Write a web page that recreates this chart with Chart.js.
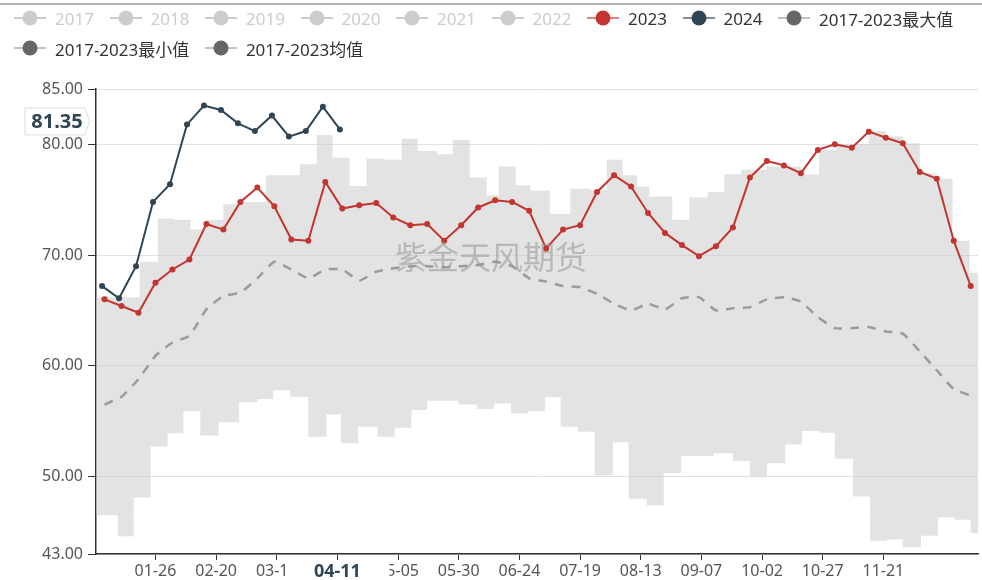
<!DOCTYPE html>
<html>
<head>
<meta charset="utf-8">
<script src="https://cdn.jsdelivr.net/npm/chart.js@4.4.1/dist/chart.umd.min.js"></script>
<style>
  html, body { margin: 0; padding: 0; background: #fff; }
  #wrap { position: relative; width: 982px; height: 580px; overflow: hidden; }
  #topline { position: absolute; left: 0; top: 3px; width: 982px; height: 2px; background: #b4b4b4; }
  #chart { position: absolute; left: 0; top: 0; }
  .legend-row { position: absolute; left: 14px; display: flex; align-items: center; height: 24px;
    font-family: "Noto Sans", "Noto Sans CJK SC", sans-serif; font-size: 17px; white-space: nowrap; }
  .legend-item { display: flex; align-items: center; margin-right: 15.6px; }
  .legend-item svg { margin-right: 9px; }
</style>
</head>
<body>
<div id="wrap">
  <div id="topline"></div>
  <canvas id="chart" width="982" height="580"></canvas>
  <div class="legend-row" id="legend-row-1" style="top:6px"></div>
  <div class="legend-row" id="legend-row-2" style="top:36px"></div>
</div>
<script>
/* Weekly price vs. 2017-2023 range (max / min / mean band) */

// ─── DATA ────────────────────────────────────────────────
// x is day-of-year index on the category axis
var xTickDays   = [25, 50, 75, 100, 125, 150, 175, 200, 225, 250, 275, 300, 325];
var xTickLabels = ['01-26', '02-20', '03-17', '04-11', '05-05', '05-30', '06-24',
                   '07-19', '08-13', '09-07', '10-02', '10-27', '11-21'];
var yTicks = [43, 50, 60, 70, 80, 85];

var legendNames = ['2017', '2018', '2019', '2020', '2021', '2022', '2023', '2024',
                   '2017-2023最大值', '2017-2023最小值', '2017-2023均值'];
var legendOn    = [false, false, false, false, false, false, true, true, true, true, true];

// 2023, weekly (first week day 4)
var series2023 = [66.0, 65.4, 64.8, 67.5, 68.7, 69.6, 72.8, 72.3, 74.8, 76.1,
                  74.4, 71.4, 71.3, 76.6, 74.2, 74.5, 74.7, 73.4, 72.7, 72.8,
                  71.3, 72.7, 74.3, 74.95, 74.8, 74.0, 70.6, 72.3, 72.7, 75.7,
                  77.2, 76.2, 73.8, 72.0, 70.9, 69.9, 70.8, 72.5, 77.0, 78.5,
                  78.1, 77.4, 79.5, 80.0, 79.7, 81.15, 80.6, 80.1, 77.5, 76.9,
                  71.3, 67.2];
// 2024, weekly (first week day 3)
var series2024 = [67.2, 66.1, 69.0, 74.8, 76.4, 81.8, 83.5, 83.1, 81.9, 81.2,
                  82.6, 80.7, 81.2, 83.4, 81.35];
// 2017-2023 mean, same weeks as 2023
var seriesMean = [56.5, 57.2, 58.8, 60.9, 62.1, 62.7, 65.1, 66.3, 66.6, 67.9,
                  69.4, 68.7, 67.9, 68.7, 68.7, 67.7, 68.5, 68.8, 69.0, 69.0,
                  68.9, 69.0, 69.1, 69.4, 69.0, 67.9, 67.6, 67.2, 67.1, 66.5,
                  65.6, 65.0, 65.6, 65.1, 66.1, 66.2, 65.0, 65.2, 65.3, 66.0,
                  66.2, 65.8, 64.4, 63.4, 63.4, 63.5, 63.1, 62.9, 61.3, 59.6,
                  57.9, 57.3];

// 2017-2023 max: step start day / value
var maxDays = [0.5, 18.5, 26, 32.5, 39.5, 46, 53, 60.5, 70.5, 84.5,
               91.5, 98, 105, 112, 119.5, 126.5, 133, 141, 147.5, 154.5,
               161.5, 166.5, 173.5, 179.5, 187.5, 196, 204, 211, 217.5, 223.5,
               228.5, 238, 245, 252.5, 259.5, 266.5, 277, 291, 298.5, 305.5,
               319, 326, 333, 340, 346.5, 353.5, 360.5];
var maxValues = [66.2, 69.4, 73.3, 73.2, 72.3, 73.2, 74.6, 74.8, 77.2, 78.2,
                 80.85, 78.8, 76.25, 78.7, 78.6, 80.5, 79.4, 79.1, 80.4, 77.0,
                 75.4, 78.0, 76.3, 75.8, 73.7, 76.0, 75.9, 78.6, 77.2, 76.2,
                 75.3, 73.2, 75.2, 75.7, 77.3, 77.7, 78.0, 77.3, 79.5, 80.0,
                 81.2, 80.7, 80.1, 77.4, 76.9, 71.3, 68.4];
// 2017-2023 min: step start day / value
var minDays = [0.5, 9.5, 16, 23, 30, 36.5, 43.5, 51, 59.5, 67,
               73.5, 80.5, 88, 95.5, 101.5, 108.5, 116.5, 123.5, 130.5, 137,
               150, 157.5, 164.5, 171.5, 178.5, 185.5, 192, 199, 206, 213.5,
               220, 227.5, 234.5, 241.5, 255, 263, 270, 277, 284.5, 291.5,
               298.5, 305, 312.5, 319.5, 326.5, 333, 340.5, 347.5, 354.5, 361];
var minValues = [46.5, 44.6, 48.1, 52.7, 53.9, 55.9, 53.7, 54.9, 56.7, 57.0,
                 57.8, 57.2, 53.6, 55.6, 53.0, 54.5, 53.6, 54.4, 56.0, 56.85,
                 56.5, 56.1, 56.6, 55.7, 55.9, 57.15, 54.5, 54.05, 50.1, 53.1,
                 48.0, 47.4, 50.3, 51.85, 52.1, 51.4, 50.0, 51.2, 52.9, 54.1,
                 53.95, 51.6, 48.2, 44.2, 44.3, 43.6, 44.65, 46.3, 46.1, 44.9];

var pointerValue = 81.35;
var pointerDay = 100;

// ─── HELPERS ─────────────────────────────────────────────
var X_MIN = 0.5, X_MAX = 364;
var FONT = '"Noto Sans", "Noto Sans CJK SC", sans-serif';
var COLORS = {
  '2023': '#c23531',
  '2024': '#2f4554',
  other: '#666666',
  off: '#cccccc'
};

function pts(days, vals) {
  return vals.map(function(v, i) { return { x: days[i], y: v }; });
}
// hold the last step until the right edge
function steps(days, vals) {
  return pts(days, vals).concat([{ x: X_MAX, y: vals[vals.length - 1] }]);
}
function weekly(vals, firstDay) {
  return vals.map(function(_, i) { return firstDay + 7 * i; });
}

// ─── LEGEND (html, two rows) ─────────────────────────────
function renderLegend() {
  legendNames.forEach(function(name, i) {
    var on = legendOn[i];
    var c = on ? (COLORS[name] || COLORS.other) : COLORS.off;
    var line = on ? (COLORS[name] ? c : '#999') : COLORS.off;
    var item = document.createElement('div');
    item.className = 'legend-item';
    item.innerHTML =
      '<svg width="32" height="18"><line x1="0" y1="9" x2="32" y2="9" stroke="' + line +
      '" stroke-width="2" opacity="' + (on ? 0.6 : 1) + '"/>' +
      '<circle cx="16" cy="9" r="7.5" fill="' + c + '"/></svg>' +
      '<span style="color:' + (on ? '#333' : COLORS.off) + '">' + name + '</span>';
    document.getElementById(i < 9 ? 'legend-row-1' : 'legend-row-2').appendChild(item);
  });
}

// ─── OVERLAY: watermark + axis pointer labels ────────────
var overlayPlugin = {
  id: 'overlay',
  afterDatasetsDraw: function(chart) {
    var ctx = chart.ctx;
    ctx.save();
    ctx.font = '32px "Noto Sans CJK SC", sans-serif';
    ctx.fillStyle = 'rgba(150, 150, 150, 0.55)';
    ctx.textAlign = 'center';
    ctx.textBaseline = 'middle';
    ctx.fillText('紫金天风期货', chart.width / 2, 257);
    ctx.restore();
  },
  afterDraw: function(chart) {
    var ctx = chart.ctx;
    var yPix = chart.scales.y.getPixelForValue(pointerValue) - 8;
    var xPix = chart.scales.x.getPixelForValue(pointerDay);
    ctx.save();

    // y pointer label
    var top = yPix - 13.5, bottom = yPix + 13.5;
    ctx.beginPath();
    ctx.moveTo(25, top);
    ctx.lineTo(85, top);
    ctx.lineTo(89.5, yPix);
    ctx.lineTo(85, bottom);
    ctx.lineTo(25, bottom);
    ctx.closePath();
    ctx.fillStyle = '#fff';
    ctx.fill();
    ctx.strokeStyle = '#dddddd';
    ctx.lineWidth = 1;
    ctx.stroke();
    ctx.font = 'bold 20px ' + FONT;
    ctx.fillStyle = '#2f4554';
    ctx.textAlign = 'center';
    ctx.textBaseline = 'middle';
    ctx.fillText(pointerValue.toFixed(2), 57, yPix + 1);

    // x pointer label (its white box hides parts of the neighbouring labels)
    ctx.fillStyle = '#fff';
    ctx.fillRect(xPix - 49, chart.chartArea.bottom + 7, 101, 26);
    ctx.font = 'bold 18px ' + FONT;
    ctx.fillStyle = '#2f4554';
    ctx.fillText(xTickLabels[xTickDays.indexOf(pointerDay)], xPix, 572);
    ctx.restore();
  }
};

// ─── CHART ───────────────────────────────────────────────
renderLegend();

var ctx = document.getElementById('chart');
var chart = new Chart(ctx, {
  type: 'line',
  data: {
    datasets: [
      {
        label: '2024',
        data: pts(weekly(series2024, 3), series2024),
        borderColor: COLORS['2024'],
        backgroundColor: COLORS['2024'],
        borderWidth: 2,
        pointRadius: 3,
        pointBorderWidth: 0,
        order: 1
      },
      {
        label: '2023',
        data: pts(weekly(series2023, 4), series2023),
        borderColor: COLORS['2023'],
        backgroundColor: COLORS['2023'],
        borderWidth: 2,
        pointRadius: 3,
        pointBorderWidth: 0,
        order: 2
      },
      {
        label: '2017-2023均值',
        data: pts(weekly(seriesMean, 4), seriesMean),
        borderColor: '#9b9b9b',
        borderWidth: 2.5,
        borderDash: [9, 8],
        pointRadius: 0,
        tension: 0.15,
        order: 3
      },
      {
        label: '2017-2023最大值',
        data: steps(maxDays, maxValues),
        stepped: 'before',
        borderColor: 'transparent',
        borderWidth: 0,
        pointRadius: 0,
        backgroundColor: 'rgba(200, 200, 200, 0.5)',
        fill: '+1',
        order: 4
      },
      {
        label: '2017-2023最小值',
        data: steps(minDays, minValues),
        stepped: 'before',
        borderColor: 'transparent',
        borderWidth: 0,
        pointRadius: 0,
        fill: false,
        order: 4
      }
    ]
  },
  options: {
    responsive: false,
    animation: false,
    devicePixelRatio: 1,
    layout: { padding: { top: 89, left: 0, right: 0, bottom: 0 } },
    plugins: {
      legend: { display: false },
      tooltip: { enabled: false }
    },
    scales: {
      x: {
        type: 'linear',
        min: X_MIN,
        max: X_MAX,
        afterBuildTicks: function(scale) {
          scale.ticks = xTickDays.map(function(d) { return { value: d }; });
        },
        afterFit: function(scale) { scale.height = 26; },
        grid: { drawOnChartArea: false, drawTicks: true, tickLength: 6, tickColor: '#333' },
        border: { color: '#333', width: 1.5 },
        ticks: {
          autoSkip: false,
          maxRotation: 0,
          padding: 2,
          color: '#555',
          font: { family: FONT, size: 16 },
          callback: function(v) {
            var i = xTickDays.indexOf(v);
            return i >= 0 ? xTickLabels[i] : '';
          }
        }
      },
      y: {
        min: 43,
        max: 85,
        afterBuildTicks: function(scale) {
          scale.ticks = yTicks.map(function(v) { return { value: v }; });
        },
        afterFit: function(scale) { scale.width = 96; },
        grid: { color: '#e2e2e2', drawTicks: true, tickLength: 8, tickColor: '#333' },
        border: { color: '#333', width: 1.5 },
        ticks: {
          padding: 5,
          color: '#555',
          font: { family: FONT, size: 16 },
          callback: function(v) { return v.toFixed(2); }
        }
      }
    }
  },
  plugins: [overlayPlugin]
});
</script>
</body>
</html>
